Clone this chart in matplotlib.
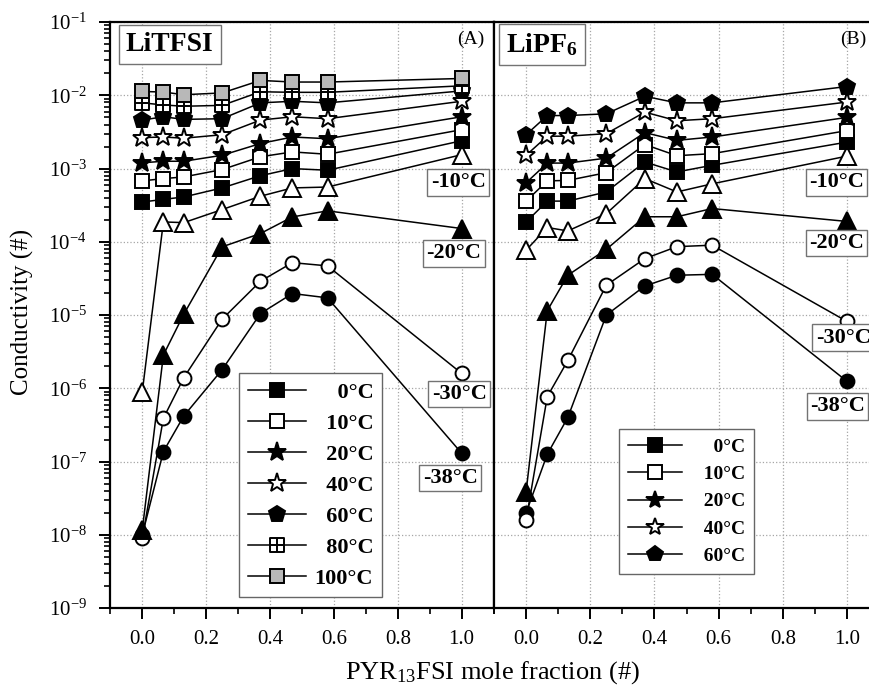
import numpy as np
import matplotlib
matplotlib.use("Agg")
import matplotlib.pyplot as plt
from matplotlib.path import Path
from matplotlib.ticker import LogLocator, MultipleLocator, FormatStrFormatter, NullFormatter

plt.rcParams['font.family'] = ['Liberation Serif', 'DejaVu Serif']
plt.rcParams['mathtext.fontset'] = 'custom'
plt.rcParams['mathtext.rm'] = 'Liberation Serif'
plt.rcParams['mathtext.bf'] = 'Liberation Serif:bold'
plt.rcParams['mathtext.default'] = 'regular'

# PYR13FSI mole fraction
x = [0.0, 0.066, 0.13, 0.25, 0.37, 0.47, 0.58, 1.0]

# LiTFSI conductivity (panel A)
litfsi = {
    '-38': [1.0e-8, 1.37e-7, 4.2e-7, 1.8e-6, 1.05e-5, 1.97e-5, 1.72e-5, 1.3e-7],
    '-30': [9.0e-9, 3.9e-7, 1.4e-6, 8.8e-6, 2.9e-5, 5.2e-5, 4.7e-5, 1.6e-6],
    '-20': [1.17e-8, 2.85e-6, 1.03e-5, 8.55e-5, 1.3e-4, 2.19e-4, 2.65e-4, 1.52e-4],
    '-10': [9.0e-7, 1.87e-4, 1.83e-4, 2.76e-4, 4.2e-4, 5.45e-4, 5.6e-4, 1.55e-3],
    '0':   [3.5e-4, 3.8e-4, 4.1e-4, 5.45e-4, 8.0e-4, 1.0e-3, 9.5e-4, 2.4e-3],
    '10':  [6.8e-4, 7.3e-4, 7.7e-4, 9.7e-4, 1.45e-3, 1.69e-3, 1.57e-3, 3.4e-3],
    '20':  [1.2e-3, 1.26e-3, 1.26e-3, 1.52e-3, 2.2e-3, 2.7e-3, 2.56e-3, 5.1e-3],
    '40':  [2.65e-3, 2.7e-3, 2.6e-3, 2.9e-3, 4.6e-3, 5.1e-3, 4.8e-3, 8.3e-3],
    '60':  [4.6e-3, 5.1e-3, 4.7e-3, 4.8e-3, 7.9e-3, 8.3e-3, 7.9e-3, 1.15e-2],
    '80':  [7.9e-3, 7.4e-3, 7.1e-3, 7.3e-3, 1.12e-2, 1.1e-2, 1.1e-2, 1.35e-2],
    '100': [1.13e-2, 1.11e-2, 1.02e-2, 1.08e-2, 1.6e-2, 1.52e-2, 1.52e-2, 1.7e-2],
}

# LiPF6 conductivity (panel B)
lipf6 = {
    '-38': [2.0e-8, 1.26e-7, 4.0e-7, 1.0e-5, 2.5e-5, 3.5e-5, 3.6e-5, 1.25e-6],
    '-30': [1.6e-8, 7.7e-7, 2.4e-6, 2.56e-5, 5.9e-5, 8.6e-5, 9.0e-5, 8.2e-6],
    '-20': [3.9e-8, 1.15e-5, 3.5e-5, 7.9e-5, 2.2e-4, 2.2e-4, 2.85e-4, 1.9e-4],
    '-10': [7.7e-5, 1.57e-4, 1.41e-4, 2.43e-4, 7.3e-4, 4.8e-4, 6.2e-4, 1.48e-3],
    '0':   [1.87e-4, 3.6e-4, 3.6e-4, 4.8e-4, 1.23e-3, 9.0e-4, 1.11e-3, 2.3e-3],
    '10':  [3.6e-4, 6.8e-4, 6.9e-4, 8.8e-4, 2.13e-3, 1.5e-3, 1.6e-3, 3.3e-3],
    '20':  [6.4e-4, 1.19e-3, 1.19e-3, 1.39e-3, 3.1e-3, 2.43e-3, 2.7e-3, 5.0e-3],
    '40':  [1.52e-3, 2.77e-3, 2.77e-3, 3.0e-3, 5.9e-3, 4.5e-3, 4.8e-3, 8.1e-3],
    '60':  [2.9e-3, 5.3e-3, 5.3e-3, 5.6e-3, 9.7e-3, 7.9e-3, 7.9e-3, 1.32e-2],
}

# square with a cross inside, for 80 C
boxplus = Path([(-1, -1), (1, -1), (1, 1), (-1, 1), (-1, -1),
                (0, -1), (0, 1), (-1, 0), (1, 0)],
               [Path.MOVETO, Path.LINETO, Path.LINETO, Path.LINETO, Path.CLOSEPOLY,
                Path.MOVETO, Path.LINETO, Path.MOVETO, Path.LINETO])

styles = {
    '-38': dict(marker='o', mfc='black', ms=10),
    '-30': dict(marker='o', mfc='white', ms=10),
    '-20': dict(marker='^', mfc='black', ms=13),
    '-10': dict(marker='^', mfc='white', ms=13),
    '0':   dict(marker='s', mfc='black', ms=10),
    '10':  dict(marker='s', mfc='white', ms=10),
    '20':  dict(marker='*', mfc='black', ms=14),
    '40':  dict(marker='*', mfc='white', ms=14),
    '60':  dict(marker='p', mfc='black', ms=12),
    '80':  dict(marker=boxplus, mfc='white', ms=10),
    '100': dict(marker='s', mfc='#b8b8b8', ms=10),
}

legend_labels = {'0': '    0°C', '10': '  10°C', '20': '  20°C', '40': '  40°C',
                 '60': '  60°C', '80': '  80°C', '100': '100°C'}

fig = plt.figure(figsize=(8.69, 6.91), dpi=100)
ax1 = fig.add_axes([0.127, 0.120, 0.441, 0.848])
ax2 = fig.add_axes([0.5685, 0.120, 0.443, 0.848], sharey=ax1)


def draw_panel(ax, data):
    handles = []
    for key, vals in data.items():
        ln, = ax.plot(x, vals, color='black', lw=1.1, mec='black', mew=1.4,
                      label=legend_labels.get(key), **styles[key])
        if key in legend_labels:
            handles.append(ln)
    ax.set_yscale('log')
    ax.set_ylim(1e-9, 1e-1)
    ax.set_xlim(-0.1, 1.1)
    ax.xaxis.set_major_locator(MultipleLocator(0.2))
    ax.xaxis.set_minor_locator(MultipleLocator(0.1))
    ax.xaxis.set_major_formatter(FormatStrFormatter('%.1f'))
    ax.yaxis.set_major_locator(LogLocator(base=10, numticks=20))
    ax.yaxis.set_minor_locator(LogLocator(base=10, subs=np.arange(2, 10), numticks=20))
    ax.yaxis.set_minor_formatter(NullFormatter())
    ax.grid(True, which='major', ls=':', color='0.65', lw=0.9)
    ax.set_axisbelow(True)
    for sp in ax.spines.values():
        sp.set_linewidth(1.6)
    ax.tick_params(which='major', direction='out', length=8, width=1.4, labelsize=15, pad=9)
    ax.tick_params(which='minor', direction='out', length=4.5, width=1.2)
    ax.tick_params(axis='x', which='major', pad=8)
    return handles


h1 = draw_panel(ax1, litfsi)
h2 = draw_panel(ax2, lipf6)
ax2.tick_params(axis='y', which='both', left=False, labelleft=False)

box = dict(boxstyle='square,pad=0.15', fc='white', ec='0.45', lw=1)
ax1.text(0.155, 0.962, 'LiTFSI', transform=ax1.transAxes, fontsize=20, fontweight='bold',
         ha='center', va='center', bbox=dict(boxstyle='square,pad=0.25', fc='white', ec='0.45', lw=1))
ax2.text(0.125, 0.962, r'LiPF$_\mathbf{6}$', transform=ax2.transAxes, fontsize=20, fontweight='bold',
         ha='center', va='center', bbox=dict(boxstyle='square,pad=0.25', fc='white', ec='0.45', lw=1))
ax1.text(0.905, 0.985, '(A)', transform=ax1.transAxes, fontsize=14, ha='left', va='top')
ax2.text(0.899, 0.985, '(B)', transform=ax2.transAxes, fontsize=14, ha='left', va='top')

lab_kw = dict(fontsize=16, fontweight='bold', ha='center', va='center', bbox=box)
ax1.text(0.989, 6.5e-4, '-10°C', **lab_kw)
ax1.text(0.976, 7.0e-5, '-20°C', **lab_kw)
ax1.text(0.992, 8.4e-7, '-30°C', **lab_kw)
ax1.text(0.964, 6.0e-8, '-38°C', **lab_kw)
ax2.text(0.967, 6.5e-4, '-10°C', **lab_kw)
ax2.text(0.967, 9.6e-5, '-20°C', **lab_kw)
ax2.text(0.988, 4.9e-6, '-30°C', **lab_kw)
ax2.text(0.97, 5.7e-7, '-38°C', **lab_kw)

leg1 = ax1.legend(handles=h1, loc='upper left', bbox_to_anchor=(0.336, 0.401), borderaxespad=0,
                  frameon=True, fancybox=False, edgecolor='0.4', framealpha=1,
                  prop={'weight': 'bold', 'size': 16}, handlelength=2.6, handletextpad=0.4,
                  labelspacing=0.47, borderpad=0.4)
leg1.get_frame().set_linewidth(1.0)
leg2 = ax2.legend(handles=h2, loc='upper left', bbox_to_anchor=(0.325, 0.305), borderaxespad=0,
                  frameon=True, fancybox=False, edgecolor='0.4', framealpha=1,
                  prop={'weight': 'bold', 'size': 14}, handlelength=2.8, handletextpad=0.6,
                  labelspacing=0.5, borderpad=0.45, markerscale=0.95)
leg2.get_frame().set_linewidth(1.0)

fig.text(0.026, 0.549, 'Conductivity (#)', rotation=90, fontsize=18, ha='center', va='center')
fig.text(0.567, 0.027, r'PYR$_{13}$FSI mole fraction (#)', fontsize=19, ha='center', va='center')

fig.savefig('out.png', dpi=100)
